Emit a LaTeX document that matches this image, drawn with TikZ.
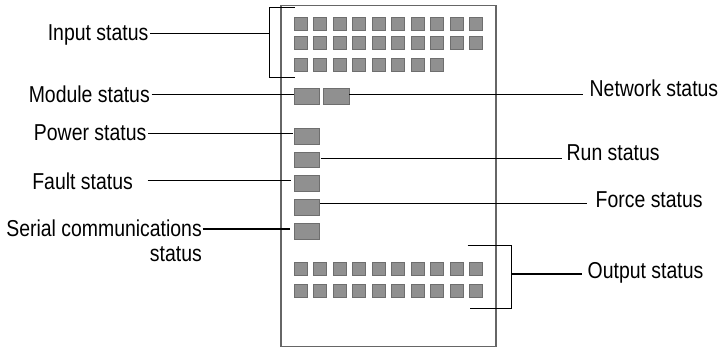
\documentclass[tikz,border=0pt]{standalone}
\usepackage{fontspec}
\setmainfont{Liberation Sans}[FakeStretch=0.845]
\begin{document}
\begin{tikzpicture}[x=1pt,y=-1pt,
  lbl/.style={inner sep=0pt,font=\fontsize{23}{25}\selectfont},
  conn/.style={draw=black,line width=1.1pt},
  sq/.style={draw=ledborder,fill=ledfill,line width=1pt,minimum width=13pt,minimum height=13pt,inner sep=0pt},
  wled/.style={draw=ledborder,fill=ledfill,line width=1pt,minimum width=25.5pt,minimum height=15.5pt,inner sep=0pt},
  frame/.style={draw=framegray,line width=1.8pt}]
\definecolor{ledfill}{HTML}{909090}
\definecolor{ledborder}{HTML}{6E6E6E}
\definecolor{framegray}{HTML}{666666}
\useasboundingbox (0,0) rectangle (723,348);
% module frame
\draw[frame] (280.7,5.5) rectangle (496,346.5);
% input LEDs
\foreach \i in {0,...,9} {
  \node[sq] (inA\i) at (300.7+19.48*\i,23.5) {};
  \node[sq] (inB\i) at (300.7+19.48*\i,43.4) {};
}
\foreach \i in {0,...,7} {
  \node[sq] (inC\i) at (300.7+19.48*\i,64.7) {};
}
% output LEDs
\foreach \i in {0,...,9} {
  \node[sq] (outA\i) at (300.7+19.48*\i,269.4) {};
  \node[sq] (outB\i) at (300.7+19.48*\i,291) {};
}
% wide status LEDs
\node[wled] (modled) at (306.9,96.7) {};
\node[wled] (netled) at (336.7,96.7) {};
\node[wled] (pwrled) at (306.9,136.3) {};
\node[wled] (runled) at (306.9,159.8) {};
\node[wled] (fltled) at (306.9,183.7) {};
\node[wled] (frcled) at (306.9,207.3) {};
\node[wled] (serled) at (306.9,231.3) {};
% labels
\node[lbl,anchor=base east] (inlbl) at (148.5,40.7) {Input status};
\node[lbl,anchor=base east] (modlbl) at (150,102.7) {Module status};
\node[lbl,anchor=base east] (pwrlbl) at (146.5,140.7) {Power status};
\node[lbl,anchor=base east] (fltlbl) at (133,189.3) {Fault status};
\node[lbl,anchor=base east] (serlbl) at (202,236.7) {Serial communications};
\node[lbl,anchor=base east] (serlbl2) at (202,261.7) {status};
\node[lbl,anchor=base west] (netlbl) at (589.5,96.7) {Network status};
\node[lbl,anchor=base west] (runlbl) at (566.5,160.7) {Run status};
\node[lbl,anchor=base west] (frclbl) at (595.5,207.7) {Force status};
\node[lbl,anchor=base west] (outlbl) at (587.5,278.3) {Output status};
% brackets
\coordinate (inbT) at (294.7,7.8);
\coordinate (inbB) at (294.7,77.3);
\draw[conn] (inbT) -| (269.3,42) |- (inbB);
\coordinate (outbT) at (467.5,245.5);
\coordinate (outbB) at (470,308.6);
\draw[conn] (outbT) -| (511.5,280) |- (outbB);
% connector end points
\coordinate (inS) at (150,33.3);   \coordinate (inE) at (269.3,33.3);
\coordinate (modS) at (151.5,94.4); \coordinate (modE) at (294,94.4);
\coordinate (netS) at (349.3,94.4); \coordinate (netE) at (582.7,94.4);
\coordinate (pwrS) at (148,133.3); \coordinate (pwrE) at (293,133.3);
\coordinate (runS) at (320.5,158.3); \coordinate (runE) at (561.7,158.3);
\coordinate (fltS) at (147.7,180.7); \coordinate (fltE) at (291,180.7);
\coordinate (frcS) at (320,203.3); \coordinate (frcE) at (586.7,203.3);
\coordinate (serS) at (202.5,229); \coordinate (serE) at (290,229);
\coordinate (outS) at (511.5,274); \coordinate (outE) at (581.5,274);
\draw[conn] (inS) -- (inE);
\draw[conn] (modS) -- (modE);
\draw[conn] (netS) -- (netE);
\draw[conn] (pwrS) -- (pwrE);
\draw[conn] (runS) -- (runE);
\draw[conn] (fltS) -- (fltE);
\draw[conn] (frcS) -- (frcE);
\draw[conn] (serS) -- (serE);
\draw[conn] (outS) -- (outE);
\end{tikzpicture}
\end{document}
